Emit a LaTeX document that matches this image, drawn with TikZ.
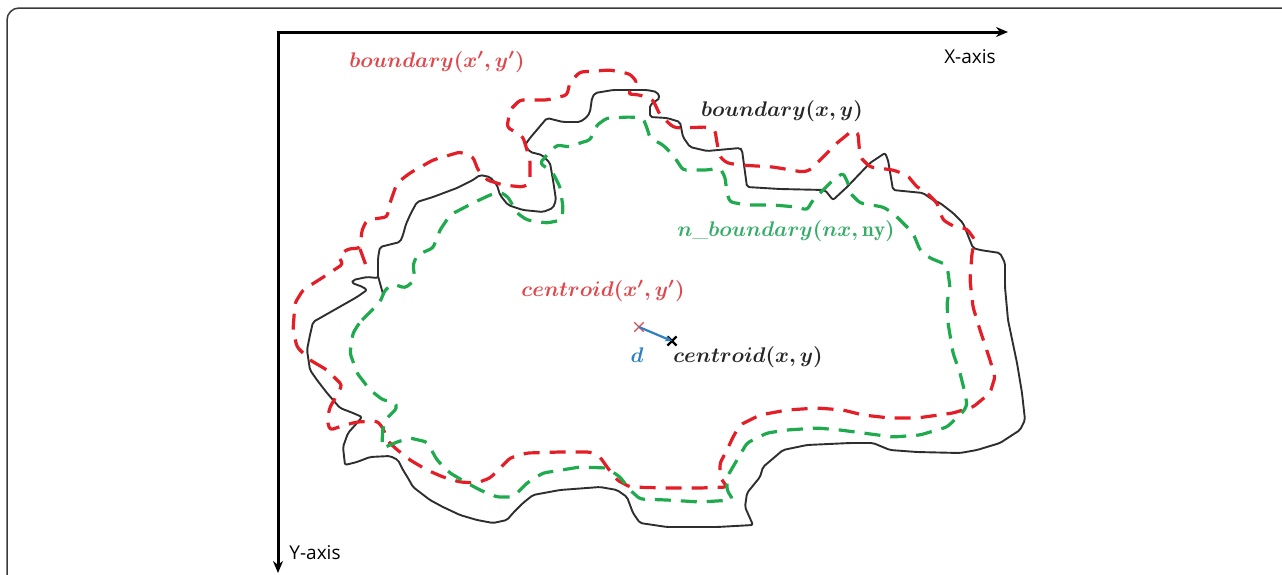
\documentclass[tikz,border=0pt]{standalone}
\usepackage{fontspec}
\setsansfont{Open Sans}
\usetikzlibrary{arrows.meta,shapes.misc}
\definecolor{lred}{HTML}{E41E26}
\definecolor{tred}{HTML}{E0474C}
\definecolor{lgreen}{HTML}{1FAA4E}
\definecolor{tgreen}{HTML}{35AD68}
\definecolor{tblue}{HTML}{2F7FC1}
\definecolor{frame}{HTML}{3A3A3A}
\tikzset{
  bnd/.style={line width=1.9pt, black!82, line join=round, rounded corners=2pt},
  rdash/.style={line width=3.2pt, lred, dash pattern=on 16pt off 10pt, line join=round, rounded corners=3pt},
  gdash/.style={line width=3.2pt, lgreen, dash pattern=on 16pt off 10pt, line join=round, rounded corners=3pt},
  axis/.style={line width=3pt, black, -{Stealth[length=12pt,width=10pt]}},
  lab/.style={inner sep=0pt, scale=2.12, font=\boldmath},
  axlab/.style={inner sep=0pt, font=\sffamily\fontsize{19}{22}\selectfont},
  cmark/.style={cross out, draw, minimum size=8pt, inner sep=0pt}
}
\begin{document}
\begin{tikzpicture}[x=1pt,y=-1pt]
\useasboundingbox (0,0) rectangle (1282,574);
% outer frame
\draw[line width=1.5pt, frame, rounded corners=12pt] (7,580) -- (7,8) -- (1290,8);
% axes
\coordinate (O) at (278,32);
\coordinate (XE) at (1008,32);
\coordinate (YE) at (278,573);
\draw[axis] ([xshift=-1.5pt]O) -- (XE);
\draw[axis] (O) -- (YE);
\node[axlab] (xl) at (970,57) {X-axis};
\node[axlab] (yl) at (315,553) {Y-axis};
% black boundary
\draw[bnd] (313,322) -- (357,297) -- (367,290) -- (363,287) -- (352,283) -- (353,280) -- (367,277) -- (378,278) -- (378,258) -- (380,247) -- (400,242) -- (403,235) -- (406,224) -- (411,213) -- (417,202) -- (433,197) -- (457,188) -- (473,180) -- (480,175) -- (490,177) -- (497,185) -- (500,195) -- (508,205) -- (523,210) -- (543,212) -- (553,208) -- (556,200) -- (553,180) -- (550,163) -- (542,155) -- (530,152) -- (525,145) -- (530,138) -- (547,118) -- (563,122) -- (580,122) -- (587,117) -- (590,112) -- (592,98) -- (595,93) -- (613,90) -- (647,90) -- (657,92) -- (660,98) -- (650,105) -- (650,117) -- (667,118) -- (680,122) -- (683,137) -- (690,147) -- (707,151) -- (740,148) -- (742,150) -- (747,187) -- (780,189) -- (825,190) -- (833,200) -- (847,187) -- (870,163) -- (885,153) -- (888,160) -- (893,190) -- (923,193) -- (933,200) -- (940,203) -- (953,213) -- (963,223) -- (973,248) -- (980,250) -- (1000,253) -- (1005,263) -- (1005,287) -- (1008,320) -- (1017,363) -- (1022,393) -- (1025,420) -- (1020,430) -- (1000,443) -- (977,450) -- (960,453) -- (917,452) -- (890,450) -- (873,443) -- (850,443) -- (807,445) -- (783,450) -- (763,467) -- (760,477) -- (747,493) -- (745,507) -- (753,525) -- (717,527) -- (667,527) -- (640,523) -- (633,513) -- (627,497) -- (617,490) -- (600,487) -- (560,490) -- (533,495) -- (523,503) -- (513,513) -- (507,520) -- (493,523) -- (477,520) -- (460,515) -- (443,507) -- (430,500) -- (413,487) -- (408,478) -- (403,470) -- (398,460) -- (390,456) -- (370,457) -- (357,462) -- (345,465) -- (343,447) -- (348,433) -- (357,423) -- (362,417) -- (353,413) -- (340,408) -- (327,393) -- (317,380) -- (310,370) -- (307,350) -- (310,335) -- cycle;
\draw[bnd] (378,276) -- (383,294);
% red dashed boundary
\draw[rdash] (310,360) -- (327,370) -- (342,385) -- (337,395) -- (330,407) -- (327,420) -- (330,430) -- (345,425) -- (357,422) -- (377,421) -- (383,428) -- (387,440) -- (395,448) -- (410,460) -- (427,470) -- (443,477) -- (460,482) -- (477,483) -- (490,478) -- (500,468) -- (510,458) -- (527,453) -- (560,452) -- (590,452) -- (600,457) -- (607,467) -- (617,480) -- (630,487) -- (667,488) -- (700,488) -- (727,487) -- (720,477) -- (720,463) -- (727,450) -- (733,437) -- (740,425) -- (760,415) -- (787,410) -- (817,408) -- (843,410) -- (863,415) -- (890,418) -- (917,418) -- (953,413) -- (973,407) -- (990,393) -- (995,377) -- (990,360) -- (980,330) -- (973,307) -- (970,280) -- (972,253) -- (975,240) -- (967,229) -- (953,226) -- (943,220) -- (937,203) -- (927,193) -- (917,187) -- (907,175) -- (893,170) -- (870,167) -- (860,157) -- (858,133) -- (853,130) -- (837,143) -- (820,160) -- (810,170) -- (803,172) -- (773,167) -- (740,165) -- (727,163) -- (720,157) -- (717,143) -- (715,130) -- (707,127) -- (680,128) -- (673,127) -- (660,115) -- (653,100) -- (640,95) -- (628,94) -- (637,82) -- (630,74) -- (610,70) -- (580,72) -- (570,82) -- (567,95) -- (547,100) -- (520,100) -- (510,110) -- (507,127) -- (523,137) -- (530,160) -- (530,183) -- (523,187) -- (503,185) -- (487,180) -- (478,170) -- (473,157) -- (460,152) -- (433,160) -- (410,173) -- (397,183) -- (390,203) -- (387,217) -- (367,220) -- (362,230) -- (360,248) -- (348,249) -- (338,256) -- (343,264) -- (325,276) -- (303,290) -- (295,303) -- (293,330) -- (297,347) -- cycle;
\draw[rdash] (360,249) -- (368,271);
% green dashed boundary
\draw[gdash] (360,322) -- (380,302) -- (385,290) -- (393,284) -- (405,288) -- (415,280) -- (413,265) -- (417,255) -- (433,248) -- (440,230) -- (450,215) -- (473,203) -- (490,195) -- (500,192) -- (508,197) -- (517,213) -- (527,220) -- (547,223) -- (562,220) -- (563,207) -- (560,187) -- (553,173) -- (540,163) -- (547,155) -- (557,145) -- (570,147) -- (580,143) -- (590,140) -- (597,125) -- (607,118) -- (630,117) -- (643,118) -- (647,128) -- (650,138) -- (663,145) -- (673,155) -- (683,170) -- (707,170) -- (720,168) -- (725,177) -- (727,193) -- (730,202) -- (747,205) -- (773,205) -- (797,207) -- (807,210) -- (813,200) -- (823,190) -- (833,180) -- (843,173) -- (848,183) -- (850,193) -- (860,203) -- (883,207) -- (893,213) -- (903,223) -- (913,233) -- (920,250) -- (930,258) -- (947,265) -- (950,287) -- (947,303) -- (948,323) -- (953,353) -- (960,373) -- (965,393) -- (967,405) -- (963,412) -- (947,427) -- (920,435) -- (893,437) -- (863,433) -- (840,430) -- (817,428) -- (787,430) -- (767,433) -- (747,443) -- (737,460) -- (727,477) -- (727,490) -- (733,500) -- (700,502) -- (667,500) -- (640,499) -- (630,490) -- (620,477) -- (607,468) -- (580,467) -- (543,473) -- (527,483) -- (513,497) -- (497,497) -- (480,490) -- (467,483) -- (450,473) -- (437,460) -- (427,442) -- (410,438) -- (397,442) -- (383,448) -- (382,443) -- (383,427) -- (387,418) -- (397,408) -- (395,402) -- (383,400) -- (370,390) -- (357,373) -- (350,353) -- (353,333) -- cycle;
% labels
\node[lab, text=tred] (bl2) at (437,62) {$boundary(x',y')$};
\node[lab, text=black!85] (bl1) at (782,111) {$boundary(x,y)$};
\node[lab, text=tgreen] (nbl) at (786,231) {$n\_boundary(nx,\mathrm{ny})$};
\node[lab, text=tred] (cl2) at (603,291) {$centroid(x',y')$};
\node[lab, text=black!85] (cl1) at (748,357) {$centroid(x,y)$};
% centroids and displacement
\node[cmark, draw=tred, line width=1.3pt] (c2) at (639,327) {};
\node[cmark, draw=black, line width=2.2pt, minimum size=7pt] (c1) at (672,341) {};
\draw[line width=2.2pt, tblue, -{Stealth[length=7pt,width=6pt]}] (c2.center) -- (c1.center);
\node[lab, text=tblue] (dl) at (637,355) {$d$};
\end{tikzpicture}
\end{document}
